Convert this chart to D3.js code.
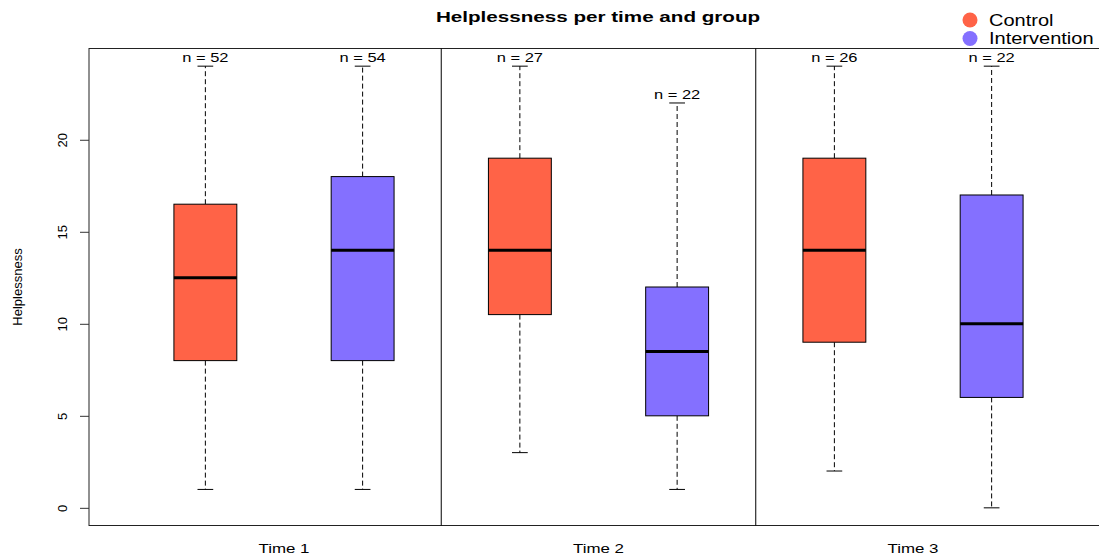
<!DOCTYPE html>
<html lang="en">
<head>
    <meta charset="UTF-8">
    <title>Helplessness per time and group</title>
    <style>
        body { margin: 0; background: #fff; }
        text { font-family: "Liberation Sans", Arial, sans-serif; fill: #000; }
        .whisker { stroke: #000; stroke-dasharray: 5,3; }
    </style>
</head>
<body>
    <svg id="container" height="560" width="1099"></svg>
</body>
<script src="https://cdn.jsdelivr.net/npm/d3@7"></script>
<script>
// data
let times = ["Time 1", "Time 2", "Time 3"]
let groups = ["Control", "Intervention"]
let groupColors = ["#FF6347", "#8470FF"]
let mins    = [1, 1, 3, 1, 2, 0]
let q1s     = [8, 8, 10.5, 5, 9, 6]
let medians = [12.5, 14, 14, 8.5, 14, 10]
let q3s     = [16.5, 18, 19, 12, 19, 17]
let maxs    = [24, 24, 24, 22, 24, 24]
let counts  = [52, 54, 27, 22, 26, 22]
let yTicks  = [0, 5, 10, 15, 20]

let svg = d3.select("#container")

// the original text is drawn a bit wider than the font, stretch it
function stretch(sel, factor) {
    sel.each(function () {
        let w = this.getComputedTextLength()
        d3.select(this).attr("textLength", w * factor).attr("lengthAdjust", "spacingAndGlyphs")
    })
}

let boxes = mins.map((m, i) => ({
    pos: i + 1,
    group: i % 2,
    min: m, q1: q1s[i], median: medians[i], q3: q3s[i], max: maxs[i], n: counts[i]
}))

let xScale = d3.scaleLinear()
    .domain([0.26, 6.74])
    .range([89, 1108])
let yScale = d3.scaleLinear()
    .domain([-0.96, 24.96])
    .range([525.5, 48.5])

let boxW = xScale(1.2) - xScale(1)   // half width 0.2
let capW = boxW / 2

// frame
svg.append("rect")
    .attr("x", xScale(0.26)).attr("y", yScale(24.96))
    .attr("width", xScale(6.74) - xScale(0.26))
    .attr("height", yScale(-0.96) - yScale(24.96))
    .attr("fill", "none").attr("stroke", "#222")

// separators between times
;[2.5, 4.5].forEach(p => {
    svg.append("line")
        .attr("x1", xScale(p)).attr("x2", xScale(p))
        .attr("y1", yScale(24.96)).attr("y2", yScale(-0.96))
        .attr("stroke", "#000")
})

// y axis
let yAxis = svg.append("g")
    .attr("transform", "translate(" + xScale(0.26) + ",0)")
    .call(d3.axisLeft(yScale).tickValues(yTicks).tickSize(9).tickPadding(0).tickFormat(() => ""))
yAxis.select(".domain").remove()
yAxis.selectAll("line").attr("stroke", "#333")
yAxis.selectAll(".tick").append("text")
    .attr("transform", "translate(-27,0) rotate(-90)")
    .attr("text-anchor", "middle")
    .attr("dy", "0.35em")
    .style("font-size", "13px")
    .style("font-family", "'Liberation Sans', Arial, sans-serif")
    .attr("fill", "#000")
    .text(d => d)

svg.append("text")
    .attr("transform", "translate(22," + (yScale(-0.96) + yScale(24.96)) / 2 + ") rotate(-90)")
    .attr("text-anchor", "middle")
    .style("font-size", "13px")
    .text("Helplessness")

// boxes
let g = svg.append("g").selectAll("g").data(boxes).join("g")

g.append("line").attr("class", "whisker")
    .attr("x1", d => xScale(d.pos)).attr("x2", d => xScale(d.pos))
    .attr("y1", d => yScale(d.q3)).attr("y2", d => yScale(d.max))
g.append("line").attr("class", "whisker")
    .attr("x1", d => xScale(d.pos)).attr("x2", d => xScale(d.pos))
    .attr("y1", d => yScale(d.q1)).attr("y2", d => yScale(d.min))

;["min", "max"].forEach(k => {
    g.append("line")
        .attr("x1", d => xScale(d.pos) - capW / 2).attr("x2", d => xScale(d.pos) + capW / 2)
        .attr("y1", d => yScale(d[k])).attr("y2", d => yScale(d[k]))
        .attr("stroke", "#000")
})

g.append("rect")
    .attr("x", d => xScale(d.pos) - boxW)
    .attr("y", d => yScale(d.q3))
    .attr("width", boxW * 2)
    .attr("height", d => yScale(d.q1) - yScale(d.q3))
    .attr("fill", d => groupColors[d.group])
    .attr("stroke", "#000")

g.append("line")
    .attr("x1", d => xScale(d.pos) - boxW).attr("x2", d => xScale(d.pos) + boxW)
    .attr("y1", d => yScale(d.median)).attr("y2", d => yScale(d.median))
    .attr("stroke", "#000").attr("stroke-width", 3)

g.append("text")
    .attr("x", d => xScale(d.pos))
    .attr("y", d => yScale(d.max) - 4)
    .attr("text-anchor", "middle")
    .style("font-size", "13.5px")
    .text(d => "n = " + d.n)
    .call(stretch, 1.22)

// time labels
svg.append("g").selectAll("text").data(times).join("text")
    .attr("x", (d, i) => xScale(2 * i + 1.5))
    .attr("y", 553)
    .attr("text-anchor", "middle")
    .style("font-size", "13.5px")
    .text(d => d)
    .call(stretch, 1.25)

// title
svg.append("text")
    .attr("x", 598).attr("y", 22)
    .attr("text-anchor", "middle")
    .style("font-size", "15.5px").style("font-weight", "bold")
    .text("Helplessness per time and group")
    .call(stretch, 1.33)

// legend
let legend = svg.append("g").selectAll("g").data(groups).join("g")
    .attr("transform", (d, i) => "translate(970," + (20 + i * 18.5) + ")")
legend.append("circle").attr("r", 7.5).attr("fill", (d, i) => groupColors[i])
legend.append("text")
    .attr("x", 19).attr("dy", "0.36em")
    .style("font-size", "16px")
    .text(d => d)
    .call(stretch, 1.25)
</script>
</html>
